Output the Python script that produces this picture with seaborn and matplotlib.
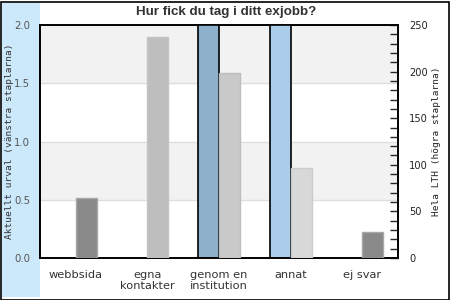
import matplotlib
matplotlib.use("Agg")
import matplotlib.pyplot as plt
import matplotlib.patches as mpatches
import seaborn as sns
import pandas as pd

categories = ["webbsida", "egna\nkontakter", "genom en\ninstitution", "annat", "ej svar"]
aktuellt = [0, 0, 3, 3, 0]          # left axis (clipped above 2.0)
hela_lth = [64, 237, 199, 97, 28]   # right axis
left_colors = ["#8eb0cb", "#8eb0cb", "#8eb0cb", "#abcde9", "#8eb0cb"]
right_colors = ["#8a8a8a", "#bebebe", "#c9c9c9", "#d8d8d8", "#8a8a8a"]
right_edges = ["#a8a8a8", "#c4c4c4", "#bdbdbd", "#cccccc", "#a8a8a8"]
series = ["Aktuellt urval", "Hela LTH"]

df_left = pd.DataFrame({"cat": categories, "value": aktuellt, "series": series[0]})
df_right = pd.DataFrame({"cat": categories, "value": hela_lth, "series": series[1]})

sns.set_style("white")
plt.rcParams["font.family"] = ["DejaVu Sans"]

fig = plt.figure(figsize=(4.5, 3), dpi=100)
fig.patch.set_facecolor("white")
# left light-blue panel and outer frame
fig.patches.append(mpatches.Rectangle((2/450, 3/300), 38/450, 294/300, transform=fig.transFigure,
                                      facecolor="#cce8fb", edgecolor="none", zorder=-5))
fig.patches.append(mpatches.Rectangle((0.5/450, 0.5/300), 448.5/450, 298/300, transform=fig.transFigure,
                                      facecolor="none", edgecolor="black", linewidth=1.2, zorder=-4))

ax = fig.add_axes([40/450, 42/300, 358/450, 233/300])
ax.set_facecolor("white")
ax2 = ax.twinx()

w = 42 / 71.6
sns.barplot(data=df_left, x="cat", y="value", hue="series", hue_order=series, dodge=True,
            width=w, ax=ax, legend=False, zorder=3)
sns.barplot(data=df_right, x="cat", y="value", hue="series", hue_order=series, dodge=True,
            width=w, ax=ax2, legend=False, zorder=3)

for p, c, v in zip(ax.patches, left_colors, aktuellt):
    p.set_facecolor(c)
    p.set_edgecolor("black" if v > 0 else "none")
    p.set_linewidth(1.2)
for p, c, e in zip(ax2.patches, right_colors, right_edges):
    p.set_facecolor(c)
    p.set_edgecolor(e)
    p.set_linewidth(1.0)

ax.set_ylim(0, 2.0)
ax2.set_ylim(0, 250)
ax.set_xlim(-0.5, len(categories) - 0.5)

# banded background
for lo, hi in [(0.5, 1.0), (1.5, 2.0)]:
    ax.axhspan(lo, hi, color="#f2f2f2", zorder=0, linewidth=0)
for y in [0.5, 1.0, 1.5]:
    ax.axhline(y, color="#dedede", linewidth=1, zorder=1)

ax.set_yticks([0, 0.5, 1.0, 1.5, 2.0])
ax.set_yticklabels(["0.0", "0.5", "1.0", "1.5", "2.0"])
ax.tick_params(axis="y", left=True, length=0, labelsize=7.3, labelcolor="#555555", pad=7)
ax.tick_params(axis="x", length=0, labelsize=8.2, labelcolor="#333333", pad=9)
for t in ax.get_xticklabels():
    t.set_linespacing(1.05)
ax.set_xlabel("")
ax.set_ylabel("Aktuellt urval (vänstra staplarna)", fontsize=6.8, color="#333333",
              family="DejaVu Sans Mono")
ax.yaxis.set_label_coords(-26/358, 0.5)

ax2.set_yticks([0, 50, 100, 150, 200, 250])
ax2.set_yticks(range(0, 251, 10), minor=True)
ax2.tick_params(axis="y", which="major", direction="in", length=6, width=1, labelsize=7.1,
                labelcolor="#222222", pad=8)
ax2.tick_params(axis="y", which="minor", direction="in", length=6, width=1)
ax2.set_ylabel("Hela LTH (högra staplarna)", fontsize=6.8, color="#222222",
               family="DejaVu Sans Mono")
ax2.yaxis.set_label_coords(1 + 34/358, 0.5)
ax2.set_xlabel("")

for a in (ax, ax2):
    for s in a.spines.values():
        s.set_visible(True)
        s.set_color("black")
        s.set_linewidth(1.2)
ax2.patch.set_alpha(0)

fig.text(226/450, 1 - 11.5/300, "Hur fick du tag i ditt exjobb?", ha="center", va="center",
         fontsize=9.6, fontweight="bold", color="#333333", family="Liberation Sans")

fig.savefig("out.png", dpi=100)
